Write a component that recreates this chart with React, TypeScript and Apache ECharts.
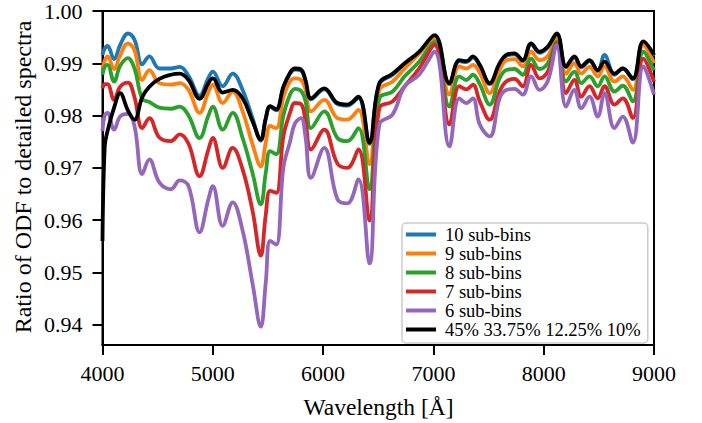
import React, { useEffect, useRef } from "react";
import * as echarts from "echarts";

const wavelengths = [4000, 4020, 4045, 4105, 4160, 4230, 4290, 4360, 4425, 4515, 4620, 4700, 4780, 4880, 4960, 5000, 5090, 5180, 5270, 5360, 5435, 5480, 5520, 5575, 5640, 5700, 5745, 5800, 5840, 5890, 6010, 6130, 6220, 6320, 6420, 6510, 6630, 6740, 6870, 7010, 7145, 7235, 7300, 7358, 7420, 7510, 7600, 7660, 7735, 7810, 7886, 7962, 8037, 8119, 8203, 8279, 8340, 8415, 8490, 8551, 8642, 8717, 8808, 8904, 9000];

const subBins10 = [0.9916, 0.9928, 0.9933, 0.9908, 0.9935, 0.9957, 0.9945, 0.9898, 0.9913, 0.989, 0.989, 0.9893, 0.9876, 0.9838, 0.9872, 0.9884, 0.9856, 0.988, 0.9849, 0.9795, 0.9752, 0.9793, 0.9816, 0.981, 0.9853, 0.988, 0.9888, 0.9886, 0.9866, 0.9831, 0.985, 0.9822, 0.9819, 0.9834, 0.9746, 0.986, 0.9878, 0.9898, 0.992, 0.9952, 0.986, 0.9904, 0.9902, 0.9911, 0.9895, 0.986, 0.9898, 0.9914, 0.9917, 0.9904, 0.9936, 0.992, 0.993, 0.9955, 0.9892, 0.9911, 0.9892, 0.9904, 0.9885, 0.9916, 0.9878, 0.989, 0.9869, 0.994, 0.9914];

const subBins9 = [0.989, 0.9905, 0.9913, 0.9889, 0.9915, 0.9938, 0.9925, 0.9868, 0.9887, 0.9862, 0.9859, 0.9862, 0.9849, 0.9805, 0.9845, 0.9859, 0.9824, 0.9846, 0.9808, 0.9745, 0.9703, 0.9748, 0.978, 0.9776, 0.9835, 0.9865, 0.9871, 0.9868, 0.985, 0.9808, 0.983, 0.9795, 0.9792, 0.9811, 0.9707, 0.9849, 0.9865, 0.989, 0.9918, 0.9947, 0.984, 0.9894, 0.989, 0.9897, 0.9882, 0.9843, 0.9887, 0.9906, 0.9908, 0.9894, 0.9922, 0.9906, 0.9914, 0.9947, 0.988, 0.99, 0.988, 0.9893, 0.9875, 0.9894, 0.9865, 0.9875, 0.9849, 0.9935, 0.99];

const subBins8 = [0.9878, 0.9893, 0.9897, 0.9865, 0.9895, 0.991, 0.989, 0.9832, 0.9826, 0.9815, 0.9813, 0.9817, 0.98, 0.9757, 0.98, 0.9817, 0.9773, 0.9805, 0.9757, 0.969, 0.963, 0.969, 0.9732, 0.9726, 0.98, 0.984, 0.9851, 0.9847, 0.9828, 0.9776, 0.9808, 0.9757, 0.9751, 0.9776, 0.9659, 0.9833, 0.9846, 0.9875, 0.9903, 0.9941, 0.9817, 0.9875, 0.9868, 0.9878, 0.986, 0.9821, 0.9871, 0.9887, 0.9889, 0.9878, 0.9909, 0.9889, 0.99, 0.9941, 0.9865, 0.9884, 0.9862, 0.9875, 0.9856, 0.9875, 0.9846, 0.9857, 0.9827, 0.9922, 0.9886];

const subBins7 = [0.9852, 0.986, 0.986, 0.983, 0.9855, 0.9863, 0.9835, 0.9776, 0.9795, 0.9758, 0.9751, 0.9764, 0.9746, 0.9684, 0.9735, 0.9757, 0.97, 0.9738, 0.9697, 0.9618, 0.9532, 0.961, 0.9656, 0.9652, 0.976, 0.9805, 0.9824, 0.9822, 0.979, 0.9735, 0.9773, 0.9708, 0.97, 0.9735, 0.9599, 0.9814, 0.9827, 0.9856, 0.989, 0.9935, 0.9783, 0.9856, 0.985, 0.9859, 0.9827, 0.9792, 0.9846, 0.9865, 0.987, 0.9856, 0.9897, 0.9871, 0.9884, 0.9938, 0.9843, 0.9868, 0.9836, 0.9856, 0.9833, 0.9856, 0.9821, 0.9833, 0.9795, 0.9909, 0.9865];

const subBins6 = [0.977, 0.98, 0.9805, 0.9773, 0.9798, 0.9803, 0.978, 0.9688, 0.9716, 0.9672, 0.9659, 0.9676, 0.9665, 0.9577, 0.964, 0.9665, 0.9589, 0.9634, 0.958, 0.9479, 0.9396, 0.948, 0.956, 0.9553, 0.97, 0.975, 0.9785, 0.9795, 0.976, 0.9681, 0.9738, 0.964, 0.9632, 0.9678, 0.9517, 0.9783, 0.9802, 0.9856, 0.9878, 0.9922, 0.9741, 0.9833, 0.9824, 0.9833, 0.9783, 0.976, 0.9833, 0.9849, 0.9851, 0.984, 0.9875, 0.9849, 0.9866, 0.9935, 0.9817, 0.9849, 0.9814, 0.9836, 0.9798, 0.9843, 0.9776, 0.9798, 0.9748, 0.9894, 0.984];

const weighted = [0.956, 0.974, 0.977, 0.9815, 0.9843, 0.981, 0.9792, 0.9835, 0.9855, 0.987, 0.9878, 0.988, 0.9868, 0.9832, 0.9862, 0.9871, 0.9844, 0.9849, 0.9833, 0.9789, 0.9754, 0.9795, 0.9818, 0.9812, 0.9855, 0.9882, 0.989, 0.9888, 0.9868, 0.9833, 0.9852, 0.9824, 0.9821, 0.9836, 0.9748, 0.9862, 0.988, 0.99, 0.9922, 0.9954, 0.9862, 0.9906, 0.9904, 0.9913, 0.9897, 0.9862, 0.99, 0.9916, 0.9919, 0.9906, 0.9938, 0.9922, 0.9932, 0.9957, 0.9894, 0.9913, 0.9894, 0.9906, 0.9887, 0.9903, 0.988, 0.989, 0.9871, 0.9942, 0.9916];

const seriesNames = ["10 sub-bins", "9 sub-bins", "8 sub-bins", "7 sub-bins", "6 sub-bins", "45% 33.75% 12.25% 10%"];
const seriesValues = [subBins10, subBins9, subBins8, subBins7, subBins6, weighted];
const seriesColors = ["#1f77b4", "#ff7f0e", "#2ca02c", "#d62728", "#9467bd", "#000000"];

const yTicks = [0.94, 0.95, 0.96, 0.97, 0.98, 0.99, 1.0];
const xTicks = [4000, 5000, 6000, 7000, 8000, 9000];

const FONT = "Liberation Serif";

export default function App() {
  const ref = useRef<HTMLDivElement>(null);
  useEffect(() => {
    if (!ref.current) return;
    const chart = echarts.init(ref.current, null, { renderer: "svg" });
    chart.setOption({
      animation: false,
      backgroundColor: "#ffffff",
      textStyle: { fontFamily: FONT },
      grid: {
        left: 102.5,
        right: 48,
        top: 9,
        bottom: 78,
        show: true,
        borderColor: "#000",
        borderWidth: 2,
        backgroundColor: "transparent",
      },
      xAxis: {
        type: "value",
        min: xTicks[0],
        max: xTicks[xTicks.length - 1],
        interval: 1000,
        axisLine: { show: true, lineStyle: { color: "#000", width: 2 } },
        axisTick: { show: true, inside: false, length: 10, lineStyle: { color: "#000", width: 2 } },
        axisLabel: {
          color: "#000",
          fontFamily: FONT,
          fontSize: 22,
          margin: 17,
          formatter: (v: number) => String(v),
        },
        splitLine: { show: false },
      },
      yAxis: {
        type: "value",
        min: 0.9361,
        max: 1.0,
        axisLine: { show: true, lineStyle: { color: "#000", width: 2 } },
        axisTick: {
          show: true,
          inside: false,
          length: 10,
          lineStyle: { color: "#000", width: 2 },
          customValues: yTicks,
        },
        axisLabel: {
          color: "#000",
          fontFamily: FONT,
          fontSize: 22,
          margin: 20,
          customValues: yTicks,
          formatter: (v: number) => v.toFixed(2),
        },
        splitLine: { show: false },
      },
      legend: {
        orient: "vertical",
        left: 402,
        top: 223,
        padding: [2, 7, 4, 4],
        itemGap: 0,
        itemWidth: 30,
        itemHeight: 4,
        icon: "rect",
        selectedMode: false,
        backgroundColor: "rgba(255,255,255,0.8)",
        borderColor: "#cccccc",
        borderWidth: 1.5,
        borderRadius: 4,
        textStyle: {
          color: "#000",
          fontFamily: FONT,
          fontSize: 18.5,
          lineHeight: 18.5,
          padding: [0, 0, 0, 4],
        },
        data: seriesNames,
      },
      graphic: [
        {
          type: "text",
          x: 23,
          y: 177,
          rotation: Math.PI / 2,
          style: {
            text: "Ratio of ODF to detailed spectra",
            fill: "#000",
            fontFamily: FONT,
            fontSize: 24,
            textAlign: "center",
            textVerticalAlign: "middle",
          },
        },
        {
          type: "text",
          x: 378.5,
          y: 407,
          style: {
            text: "Wavelength [Å]",
            fill: "#000",
            fontFamily: FONT,
            fontSize: 23.5,
            textAlign: "center",
            textVerticalAlign: "middle",
          },
        },
      ],
      series: seriesNames.map((name, k) => ({
        name,
        type: "line",
        data: wavelengths.map((w, i) => [w, seriesValues[k][i]]),
        showSymbol: false,
        symbol: "none",
        smooth: 0.4,
        clip: true,
        lineStyle: { color: seriesColors[k], width: 3.8 },
        itemStyle: { color: seriesColors[k] },
      })),
    });
    return () => chart.dispose();
  }, []);
  return (
    <div
      ref={ref}
      style={{ position: "fixed", left: 0, top: 0, width: 702, height: 423 }}
    />
  );
}
